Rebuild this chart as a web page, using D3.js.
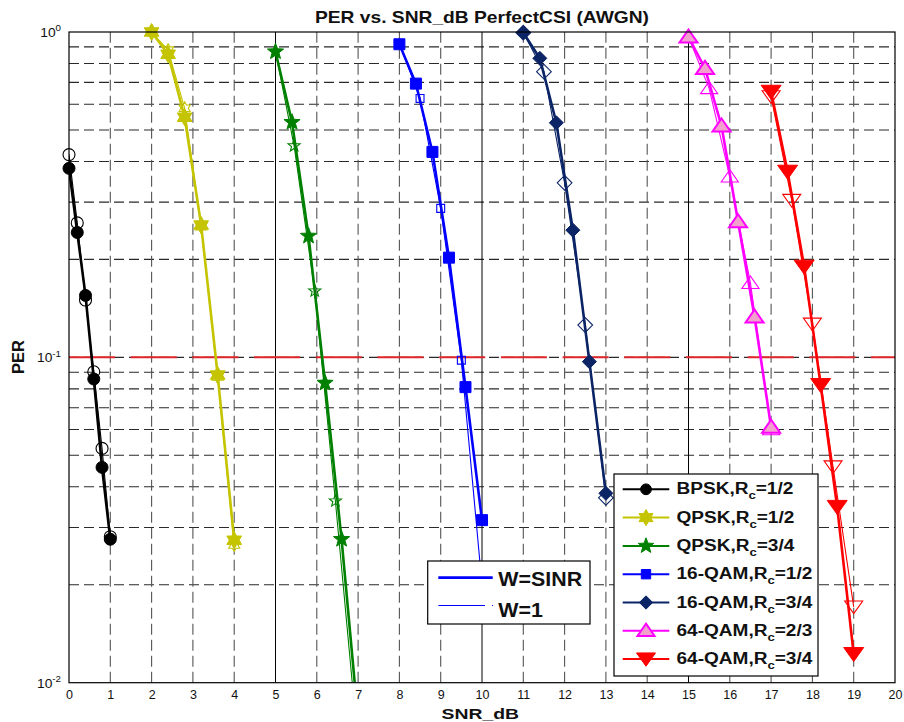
<!DOCTYPE html>
<html>
<head>
<meta charset="utf-8">
<script src="https://cdn.jsdelivr.net/npm/d3@7"></script>
<style>
  body { margin: 0; background: #fff; }
  svg { display: block; }
  text { font-family: "Liberation Sans", Arial, Helvetica, sans-serif; fill: #111; }
</style>
</head>
<body>
<svg id="chart" width="904" height="722"></svg>
<script>
// ---- data: PER vs SNR (dB), two weightings per modulation/coding scheme ----
const snrBpsk      = [0, 0.2, 0.4, 0.6, 0.8, 1.0];
const perBpskSinr  = [0.381, 0.242, 0.155, 0.0858, 0.0459, 0.0276];
const perBpskOne   = [0.42, 0.259, 0.150, 0.0903, 0.0525, 0.0281];

const snrQpsk12     = [2.0, 2.4, 2.8, 3.2, 3.6, 4.0];
const perQpsk12Sinr = [1.0, 0.854, 0.547, 0.255, 0.0882, 0.0274];
const perQpsk12One  = [1.0, 0.88, 0.583, 0.252, 0.087, 0.0265];

const snrQpsk34Sinr = [5.0, 5.4, 5.8, 6.2, 6.6, 7.0];
const perQpsk34Sinr = [0.870, 0.528, 0.236, 0.0834, 0.0276, 0.0077];
const snrQpsk34One  = [5.0, 5.45, 5.95, 6.45, 6.95];
const perQpsk34One  = [0.87, 0.447, 0.16, 0.0362, 0.0075];

const snrQam16r12Sinr = [8.0, 8.4, 8.8, 9.2, 9.6, 10.0];
const perQam16r12Sinr = [0.917, 0.694, 0.428, 0.2025, 0.081, 0.0316];
const snrQam16r12One  = [8.0, 8.5, 9.0, 9.5, 10.0];
const perQam16r12One  = [0.92, 0.625, 0.287, 0.098, 0.02];

const snrQam16r34Sinr = [11.0, 11.4, 11.8, 12.2, 12.6, 13.0];
const perQam16r34Sinr = [0.995, 0.830, 0.526, 0.246, 0.097, 0.0382];
const snrQam16r34One  = [11.0, 11.5, 12.0, 12.5, 13.0];
const perQam16r34One  = [0.995, 0.755, 0.344, 0.1257, 0.037];

const snrQam64r23Sinr = [15.0, 15.4, 15.8, 16.2, 16.6, 17.0];
const perQam64r23Sinr = [0.965, 0.773, 0.514, 0.261, 0.133, 0.061];
const snrQam64r23One  = [15.0, 15.5, 16.0, 16.5, 17.0];
const perQam64r23One  = [0.965, 0.671, 0.359, 0.169, 0.06];

const snrQam64r34Sinr = [17.0, 17.4, 17.8, 18.2, 18.6, 19.0];
const perQam64r34Sinr = [0.655, 0.372, 0.19, 0.0822, 0.0347, 0.01225];
const snrQam64r34One  = [17.0, 17.5, 18.0, 18.5, 19.0];
const perQam64r34One  = [0.633, 0.304, 0.1266, 0.0461, 0.0171];

const perTarget   = [0.1];
const xTickValues = d3.range(0, 21);
const yTickValues = [0.01, 0.1, 1];
const yTickExps   = ["-2", "-1", "0"];
const solidXLines = [5, 10, 15];

const schemeLabels = [
  ["BPSK,R", "c", "=1/2"],
  ["QPSK,R", "c", "=1/2"],
  ["QPSK,R", "c", "=3/4"],
  ["16-QAM,R", "c", "=1/2"],
  ["16-QAM,R", "c", "=3/4"],
  ["64-QAM,R", "c", "=2/3"],
  ["64-QAM,R", "c", "=3/4"]
];
const weightLabels = ["W=SINR", "W=1"];

(function drawChart() {
// ---- scheme table (styles + references to the arrays above) ----
const schemes = [
  { color: "#000000", fill: "#000000", marker: "circle",   xs: snrBpsk,         sinr: perBpskSinr,     xo: snrBpsk,        one: perBpskOne },
  { color: "#c4c400", fill: "#c4c400", marker: "hexagram", xs: snrQpsk12,       sinr: perQpsk12Sinr,   xo: snrQpsk12,      one: perQpsk12One },
  { color: "#008000", fill: "#008000", marker: "pentagram",xs: snrQpsk34Sinr,   sinr: perQpsk34Sinr,   xo: snrQpsk34One,   one: perQpsk34One },
  { color: "#0000ff", fill: "#0000ff", marker: "square",   xs: snrQam16r12Sinr, sinr: perQam16r12Sinr, xo: snrQam16r12One, one: perQam16r12One },
  { color: "#0b2466", fill: "#0b2466", marker: "diamond",  xs: snrQam16r34Sinr, sinr: perQam16r34Sinr, xo: snrQam16r34One, one: perQam16r34One },
  { color: "#ff00ff", fill: "#f2a0cc", marker: "triUp",    xs: snrQam64r23Sinr, sinr: perQam64r23Sinr, xo: snrQam64r23One, one: perQam64r23One },
  { color: "#ff0000", fill: "#ff0000", marker: "triDown",  xs: snrQam64r34Sinr, sinr: perQam64r34Sinr, xo: snrQam64r34One, one: perQam64r34One }
].map((s, i) => Object.assign(s, { label: schemeLabels[i] }));

// ---- geometry ----
const svg = d3.select("#chart");
const pLeft = 69, pRight = 895, pTop = 32, pBottom = 682.7;
const x = d3.scaleLinear().domain([0, 20]).range([pLeft, pRight]);
const y = d3.scaleLog().domain([0.01, 1]).range([pBottom, pTop]);

svg.append("defs").append("clipPath").attr("id", "plotClip")
  .append("rect").attr("x", pLeft).attr("y", pTop).attr("width", pRight - pLeft).attr("height", pBottom - pTop);

// ---- marker shapes ----
function starPath(n, rOut, rIn) {
  const pts = [];
  for (let i = 0; i < 2 * n; i++) {
    const a = -Math.PI / 2 + i * Math.PI / n;
    const r = i % 2 ? rIn : rOut;
    pts.push([r * Math.cos(a), r * Math.sin(a)]);
  }
  return "M" + pts.map(p => p[0].toFixed(2) + "," + p[1].toFixed(2)).join("L") + "Z";
}
function markerPath(type, k) {
  switch (type) {
    case "circle":    return d3.arc()({ innerRadius: 0, outerRadius: 6 * k, startAngle: 0, endAngle: 2 * Math.PI });
    case "hexagram":  return starPath(6, 8.5 * k, 8.5 * k * 0.577);
    case "pentagram": return starPath(5, 8.5 * k, 8.5 * k * 0.42);
    case "square":    return `M${-5.5 * k},${-5.5 * k}h${11 * k}v${11 * k}h${-11 * k}Z`;
    case "diamond":   return `M0,${-7 * k}L${7 * k},0L0,${7 * k}L${-7 * k},0Z`;
    case "triUp":     return `M0,${-7.5 * k}L${9 * k},${5.5 * k}L${-9 * k},${5.5 * k}Z`;
    case "triDown":   return `M0,${7.5 * k}L${10 * k},${-6.5 * k}L${-10 * k},${-6.5 * k}Z`;
  }
}
const openScale = { circle: 1.0, hexagram: 0.75, pentagram: 0.75, square: 0.72, diamond: 1.05, triUp: 0.95, triDown: 0.9 };

// ---- grid ----
const grid = svg.append("g");
const minorY = [];
[0.01, 0.1].forEach(d => { for (let m = 1; m <= 9; m++) if (!(d === 0.01 && m === 1)) minorY.push(d * m); });
grid.selectAll("line.hg").data(minorY).join("line")
  .attr("x1", pLeft).attr("x2", pRight)
  .attr("y1", d => y(d)).attr("y2", d => y(d))
  .attr("stroke", "#2a2a2a").attr("stroke-width", 1.1).attr("stroke-dasharray", "10,5");
grid.selectAll("line.vg").data(xTickValues.filter(v => v > 0 && v < 20 && !solidXLines.includes(v))).join("line")
  .attr("y1", pBottom).attr("y2", pTop)
  .attr("x1", d => x(d)).attr("x2", d => x(d))
  .attr("stroke", "#555").attr("stroke-width", 1.1).attr("stroke-dasharray", "11,5");
grid.selectAll("line.vs").data(solidXLines).join("line")
  .attr("y1", pBottom).attr("y2", pTop)
  .attr("x1", d => x(d)).attr("x2", d => x(d))
  .attr("stroke", "#000").attr("stroke-width", 1);

// target PER line
grid.selectAll("line.target").data(perTarget).join("line")
  .attr("x1", x(0)).attr("x2", x(20))
  .attr("y1", d => y(d)).attr("y2", d => y(d))
  .attr("stroke", "#e0262b").attr("stroke-width", 2).attr("stroke-dasharray", "46,15.7");

// ---- curves ----
const lineGen = d3.line().x(d => x(d[0])).y(d => y(d[1]));
const plot = svg.append("g");

schemes.forEach(s => {
  const sinrPts = s.xs.map((v, i) => [v, s.sinr[i]]);
  const onePts  = s.xo.map((v, i) => [v, s.one[i]]);
  const g = plot.append("g");

  // W = 1 : thin line, hollow markers
  g.append("path").datum(onePts).attr("d", lineGen).attr("clip-path", "url(#plotClip)")
    .attr("fill", "none").attr("stroke", s.color).attr("stroke-width", 1.1);
  g.selectAll("path.mo").data(onePts.filter(p => p[1] >= 0.01)).join("path")
    .attr("transform", d => `translate(${x(d[0])},${y(d[1])})`)
    .attr("d", markerPath(s.marker, openScale[s.marker]))
    .attr("fill", "none").attr("stroke", s.color).attr("stroke-width", 1.1);

  // W = SINR : thick line, filled markers
  g.append("path").datum(sinrPts).attr("d", lineGen).attr("clip-path", "url(#plotClip)")
    .attr("fill", "none").attr("stroke", s.color).attr("stroke-width", 2.6);
  g.selectAll("path.mf").data(sinrPts.filter(p => p[1] >= 0.01)).join("path")
    .attr("transform", d => `translate(${x(d[0])},${y(d[1])})`)
    .attr("d", markerPath(s.marker, 1))
    .attr("fill", s.fill).attr("stroke", s.color).attr("stroke-width", s.marker === "triUp" ? 2 : 1);
});

// ---- axes box ----
svg.append("rect").attr("x", pLeft).attr("y", pTop).attr("width", pRight - pLeft).attr("height", pBottom - pTop)
  .attr("fill", "none").attr("stroke", "#000").attr("stroke-width", 1.2);

// x axis labels via d3 axis
const xAxis = svg.append("g").attr("transform", `translate(0,${pBottom})`)
  .call(d3.axisBottom(x).tickValues(xTickValues).tickSize(0).tickPadding(0).tickFormat(d3.format("d")));
xAxis.select(".domain").remove();
xAxis.selectAll("text").attr("y", 16.3).attr("dy", null)
  .style("font-size", "12.5px").style("font-family", "Liberation Sans, Arial, sans-serif").attr("fill", "#111");

// y axis labels: 10 with superscript exponent
const yLab = svg.append("g");
yTickValues.forEach((v, i) => {
  const g = yLab.append("g").attr("transform", `translate(61,${y(v) + 5}) scale(1.15,1)`);
  const t = g.append("text").attr("text-anchor", "end").style("font-size", "12px");
  t.append("tspan").text("10");
  t.append("tspan").attr("dy", -5.6).style("font-size", "8.5px").text(yTickExps[i]);
});

// title and axis titles
svg.append("text").attr("x", 315).attr("y", 23)
  .attr("textLength", 334).attr("lengthAdjust", "spacingAndGlyphs")
  .style("font-size", "17px").style("font-weight", "bold")
  .text("PER vs. SNR_dB PerfectCSI (AWGN)");
svg.append("text").attr("x", 441.5).attr("y", 719)
  .attr("textLength", 77.5).attr("lengthAdjust", "spacingAndGlyphs")
  .style("font-size", "15.5px").style("font-weight", "bold")
  .text("SNR_dB");
svg.append("text").attr("transform", "translate(24,357) rotate(-90)").attr("text-anchor", "middle")
  .style("font-size", "16.5px").style("font-weight", "bold")
  .text("PER");

// ---- scheme legend ----
const leg = svg.append("g");
leg.append("rect").attr("x", 614).attr("y", 474).attr("width", 204).attr("height", 202)
  .attr("fill", "#fff").attr("stroke", "#000").attr("stroke-width", 1.2);
schemes.forEach((s, i) => {
  const cy = 489.3 + i * 28.3;
  leg.append("line").attr("x1", 622.7).attr("x2", 669.3).attr("y1", cy).attr("y2", cy)
    .attr("stroke", s.color).attr("stroke-width", 2);
  const mk = s.marker === "circle" ? 0.9 : s.marker === "square" ? 0.85 : 0.95;
  leg.append("path").attr("transform", `translate(646,${cy})`)
    .attr("d", markerPath(s.marker, mk))
    .attr("fill", s.fill).attr("stroke", s.color).attr("stroke-width", s.marker === "triUp" ? 2 : 1);
  const g = leg.append("g").attr("transform", `translate(676.5,${cy + 5}) scale(1.19,1)`);
  const t = g.append("text").style("font-size", "16px").style("font-weight", "bold");
  t.append("tspan").text(s.label[0]);
  t.append("tspan").attr("dy", 5).style("font-size", "11px").text(s.label[1]);
  t.append("tspan").attr("dy", -5).text(s.label[2]);
});

// ---- weighting legend ----
const leg2 = svg.append("g");
leg2.append("rect").attr("x", 427.7).attr("y", 561).attr("width", 162.3).attr("height", 63)
  .attr("fill", "#fff").attr("stroke", "#000").attr("stroke-width", 1.2);
const wRows = [{ cy: 577.7, base: 586, w: 2.8, x2: 492.7 }, { cy: 605.5, base: 616.5, w: 1.1, x2: 485 }];
wRows.forEach((r, i) => {
  leg2.append("line").attr("x1", 438.3).attr("x2", r.x2).attr("y1", r.cy).attr("y2", r.cy)
    .attr("stroke", "#0000ff").attr("stroke-width", r.w);
  leg2.append("g").attr("transform", `translate(498.3,${r.base}) scale(1.07,1)`)
    .append("text").style("font-size", "20px").style("font-weight", "bold").text(weightLabels[i]);
});
leg2.append("rect").attr("x", 492).attr("y", 605).attr("width", 1).attr("height", 1).attr("fill", "#0000ff");
})();
</script>
</body>
</html>
